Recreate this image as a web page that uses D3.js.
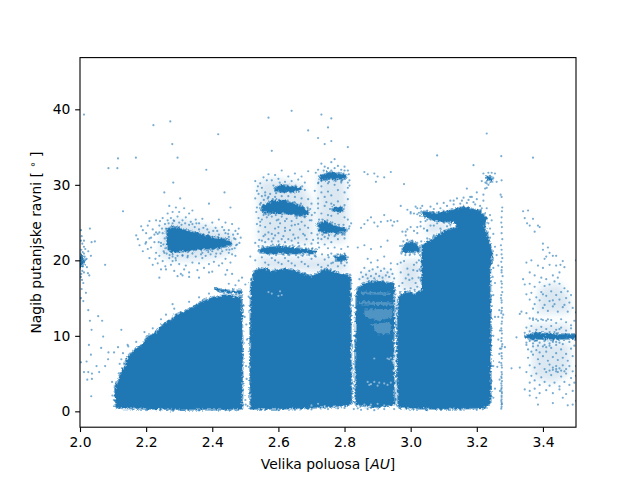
<!DOCTYPE html>
<html><head><meta charset="utf-8">
<script src="https://cdn.jsdelivr.net/npm/d3@7/dist/d3.min.js"></script>
<style>html,body{margin:0;background:#fff}svg{display:block}text{font-family:"DejaVu Sans";font-size:13.89px;fill:#000}</style>
</head><body><svg id="c" width="640" height="480"></svg>
<script>
const xTicks=[2.0,2.2,2.4,2.6,2.8,3.0,3.2,3.4];
const yTicks=[0,10,20,30,40];
const xTitle="Velika poluosa ";
// saturated regions: outlines, [a, i]
const regionInner=[[2.11,0.6],[2.107,2],[2.107,3.2],[2.117,4],[2.123,5],[2.135,5.9],[2.145,7],[2.165,8.1],[2.185,8.6],[2.205,9.8],[2.23,10.4],[2.255,11.6],[2.275,12],[2.295,12.9],[2.315,13.1],[2.345,13.8],[2.375,14.6],[2.4,15],[2.44,15.3],[2.47,15.1],[2.487,15.1],[2.49,8],[2.489,0.4],[2.45,0.3],[2.4,0.35],[2.3,0.3],[2.2,0.4],[2.13,0.5]];
const regionMiddle=[[2.517,0.4],[2.516,8],[2.519,17],[2.53,18.5],[2.55,18.9],[2.58,18.5],[2.62,18.8],[2.66,18.4],[2.7,17.8],[2.72,18.2],[2.74,18.8],[2.76,18.5],[2.79,18.1],[2.816,18],[2.817,12],[2.82,1.1],[2.8,0.8],[2.7,0.55],[2.6,0.4]];
const regionOuter=[[2.836,0.9],[2.834,8],[2.838,16],[2.86,16.9],[2.9,17.2],[2.948,16.8],[2.949,14],[2.946,7],[2.95,1],[2.9,0.6]];
const regionPallas=[[2.963,0.6],[2.96,7],[2.963,15],[2.985,15.8],[3.01,15.5],[3.036,16],[3.036,22],[3.067,22.8],[3.1,23.8],[3.14,24.3],[3.14,25.1],[3.08,25.3],[3.04,25.9],[3.037,26.4],[3.079,26.2],[3.12,26.5],[3.159,27],[3.21,26.5],[3.228,25.6],[3.222,24.6],[3.235,22.6],[3.245,20.9],[3.238,18.2],[3.24,14.7],[3.24,1.1],[3.22,0.5],[3.1,0.4],[3.0,0.45]];
const blobs=[
[[2.265,21.7],[2.264,24],[2.28,24.4],[2.33,23.8],[2.4,23],[2.452,22.6],[2.456,22.1],[2.42,21.7],[2.36,21.5],[2.3,21.2],[2.275,21.2]],
[[2.41,16.2],[2.45,15.9],[2.487,15.9],[2.487,15.65],[2.42,15.95]],
[[2.545,21.5],[2.6,21.8],[2.66,21.5],[2.715,21.2],[2.71,21],[2.65,21],[2.58,21],[2.545,21.1]],
[[2.59,29.5],[2.61,29.9],[2.64,29.7],[2.668,29.45],[2.65,29.2],[2.61,29.1],[2.592,29.3]],
[[2.55,27],[2.58,27.8],[2.62,27.8],[2.67,27.1],[2.69,26.4],[2.68,26],[2.62,26.3],[2.57,26.4],[2.552,26.5]],
[[2.72,24.8],[2.74,25.1],[2.77,24.5],[2.805,24.1],[2.8,23.8],[2.76,23.7],[2.725,23.9]],
[[2.725,31],[2.75,31.6],[2.805,31.2],[2.8,30.85],[2.76,30.8],[2.73,30.7]],
[[2.77,20.5],[2.8,20.6],[2.805,20.1],[2.78,20]],
[[2.765,26.9],[2.795,26.9],[2.795,26.6],[2.765,26.65]],
[[2.975,21.2],[2.98,22],[3.0,22.4],[3.025,21.8],[3.025,21.2],[3,21.1]],
[[3.345,9.95],[3.38,10.3],[3.44,10.1],[3.5,10.15],[3.5,9.7],[3.42,9.65],[3.365,9.6]],
[[2.0,19],[2.0,20.8],[2.008,20.4],[2.01,19.6]],
[[3.232,31],[3.245,30.9],[3.245,30.5],[3.236,30.6]]];
// thin light streaks inside the outer block
const streaks=[
[[2.85,15.9],[2.94,15.7],[2.94,15.4],[2.85,15.5]],
[[2.845,14.6],[2.945,14.4],[2.945,14],[2.845,14.2]],
[[2.86,13.5],[2.945,13.6],[2.945,12.4],[2.9,12],[2.86,12.6]],
[[2.88,11.6],[2.94,11.8],[2.94,10.2],[2.9,10.2]]];
// clouds too dense to read dot by dot: thin blurred shading under the sparse points
const haze=[
[[2.24,21],[2.25,24.6],[2.3,25.4],[2.38,24.6],[2.47,23.3],[2.47,21.4],[2.42,20.4],[2.32,19.9],[2.26,20.2]],
[[2.54,22.4],[2.54,30.5],[2.6,30.8],[2.67,30],[2.7,28],[2.7,22.2]],
[[2.72,22.4],[2.72,31.6],[2.8,31.4],[2.81,25.5],[2.8,22.4]],
[[2.54,18.8],[2.54,20.5],[2.8,20.2],[2.81,18.5]],
[[2.85,17],[2.85,18.3],[2.94,18.6],[2.94,17]],
[[2.97,16],[2.97,20],[3.03,20],[3.03,16]],
[[3.05,23.2],[3.05,25.2],[3.12,24.9],[3.12,24.2]],
[[3.38,13],[3.39,16.5],[3.45,17],[3.48,15],[3.48,13]],
[[3.37,4.5],[3.37,9],[3.48,9],[3.48,5],[3.43,3.8]],
[[3.36,10],[3.36,11.5],[3.48,11.5],[3.48,10]]];
// individually read sparse points, flat x,y
const ptsOutliers=[2.012,39.3,2.222,37.9,2.273,38.4,2.418,36.7,2.279,35.4,2.295,33.6,2.115,33.5,2.169,33.6,2.086,32.2,2.113,32.2,2.382,32,2.282,30.3,2.255,29,2.437,29,2.303,28.2,2.13,26.5,2.025,13.4,2.055,12.6,2.03,12,2.067,12,2.035,10.8,2.125,10.8,2.07,9.9,2.027,8.8,2.064,8.4,2.086,7.8,2.103,7.8,2.033,7.5,2.115,8.5,2.144,8.8,2.085,6.9,2.02,6.6,2.003,6.5,2.05,6,2.076,6,2.012,5.2,2.025,5.2,2.036,5,2.058,5.2,2.022,4.2,2.036,4.3,2.034,2,2.24,17.7,2.28,14.2,2.49,17.7,2.46,18.2,2.57,38.9,2.64,39.8,2.58,34.5,2.73,39.3,2.76,38.8,2.75,37.6,2.69,37.2,2.72,36.2,2.74,35.4,2.76,35.8,2.81,35,3.23,36.8,3.08,33.9,3.37,33.6,3.19,32.6,3.17,29.5,3.5,20,2.77,33.4,2.89,31.5,2.86,31.7,2.87,31.4,2.9,31.1,2.92,31,2.895,30.4,2.94,31.7,2.98,30.1];
const ptsLeft=[2.003,24,2.005,23.2,2.012,22.6,2.03,24.2,2.035,22.4,2.045,22.5,2.012,21.8,2.025,21.2,2.033,20.6,2.02,20.2,2.012,18.4,2.024,18.3,2.006,17.4,2.01,17,2.005,16.2,2.018,15.7,2.028,18,2.007,22.2,2.016,21.5,2.013,19.8,2.021,19.1,2.076,19.4,2.003,15,2.01,14.6,2.004,21.4,2.008,21.1,2.003,22.6,2.014,20.5,2.012,20.9,2.017,20.1,2.004,18.2,2.007,18.6,2.003,17.8];
const ptsHungaria=[2.19,24,2.2,23.6,2.205,24.6,2.21,25.2,2.215,23,2.22,24.1,2.225,22.4,2.23,25.3,2.235,23.5,2.24,24.6,2.245,22.3,2.25,25.6,2.17,23.3,2.175,22.8,2.19,21.2,2.2,22.4,2.205,21.5,2.21,20.3,2.215,21.7,2.22,19.4,2.23,21,2.235,19.6,2.24,20.6,2.245,18.8,2.25,19.9,2.255,21,2.258,19.2,2.26,18.8,2.265,26.2,2.27,27.2,2.275,25.6,2.28,26.4,2.285,25.2,2.29,27,2.295,25.8,2.3,26.4,2.31,25.3,2.315,26.9,2.32,25.7,2.33,26.2,2.335,25.1,2.34,26.6,2.35,25.4,2.36,24.9,2.37,25.5,2.38,24.6,2.39,27.5,2.4,25,2.41,24.3,2.42,25.4,2.43,24.4,2.44,25,2.45,24,2.455,27,2.46,24.8,2.47,23.9,2.48,24.2,2.27,20.3,2.275,19.4,2.28,20.8,2.285,18.6,2.29,20,2.295,17.9,2.3,19.5,2.305,18.2,2.31,20.6,2.315,18.8,2.32,19.3,2.325,20.4,2.33,18.4,2.34,19.7,2.35,20.5,2.355,18.7,2.36,19.6,2.37,20.3,2.375,19,2.38,20.6,2.39,19.5,2.395,20.8,2.4,18.5,2.405,19.8,2.41,20.5,2.42,19.3,2.425,20.9,2.43,19.6,2.44,20.2,2.445,18.7,2.45,21,2.455,19.7,2.46,20.8,2.47,20.6,2.28,24.9,2.3,25,2.33,24.7,2.36,24.1,2.39,23.7,2.42,23.4,2.45,23.1,2.47,22.8,2.475,22.1,2.28,20.5,2.31,20.7,2.34,20.9,2.37,21,2.4,21.2,2.43,21.2,2.46,21.5,2.25,23.6,2.252,22.1,2.253,21.2,2.248,24.2,2.3,24.4,2.24,23.7,2.23,23.7,2.31,18,2.33,17.8,2.36,17.7,2.44,18.1,2.39,18.4,2.28,19.9,2.295,20.6,2.245,21.9,2.225,23.4,2.21,22.9,2.198,22.2,2.185,24.5,2.18,22,2.265,25.3,2.34,24.8,2.385,24.1,2.415,23.9,2.44,23.6,2.257,24.8,2.262,20.9,2.268,24.9,2.271,20.7,2.283,25.3,2.289,20.3,2.307,24.7,2.318,24.9,2.326,20.6,2.347,24.4,2.352,24.9,2.366,20.8,2.373,24.3,2.388,21.1,2.403,23.9,2.412,20.9,2.436,24,2.443,21.4,2.448,23.5,2.452,21.4,2.463,23.4,2.466,22.9,2.472,22,2.468,21.6,2.477,23.5,2.482,22.3,2.486,23,2.258,21.6,2.256,22.9,2.26,24.2,2.238,22.4,2.228,20.2,2.242,25.2];
const ptsMiddleHigh=[2.53,30.5,2.535,29.2,2.54,28.8,2.545,30.2,2.55,29.6,2.555,31,2.56,28.6,2.565,30.6,2.57,31.4,2.575,28.8,2.58,30.6,2.59,31.3,2.6,30.8,2.61,31.9,2.62,30.4,2.63,31.1,2.64,30.5,2.65,31.5,2.66,30.7,2.67,31.1,2.68,30.3,2.69,31.8,2.53,28.2,2.535,27,2.54,25.6,2.535,24.8,2.54,23.8,2.545,24.6,2.55,25.4,2.555,23.2,2.56,24.4,2.565,25.7,2.57,23.7,2.575,24.9,2.58,25.8,2.585,22.9,2.59,24.2,2.595,25.3,2.6,23.6,2.605,24.9,2.61,25.8,2.615,23.2,2.62,24.3,2.625,25.5,2.63,22.8,2.635,24,2.64,25.2,2.645,23.4,2.65,24.7,2.655,25.6,2.66,23,2.665,24.1,2.67,25.1,2.675,23.5,2.68,24.6,2.685,22.8,2.69,24.3,2.695,25.3,2.7,23.6,2.705,22.7,2.55,22.6,2.56,22.4,2.57,22.8,2.58,22.5,2.59,23.3,2.6,22.5,2.61,22.8,2.62,22.4,2.64,22.6,2.66,22.3,2.68,22.1,2.7,22.2,2.72,22.3,2.73,22.8,2.74,22.1,2.75,21.6,2.76,22.4,2.77,21.7,2.78,22.8,2.79,21.5,2.8,22.9,2.81,21.8,2.74,23.1,2.77,23.2,2.8,23.4,2.55,28.5,2.56,29,2.57,28.4,2.59,28.4,2.61,28.5,2.63,28.5,2.65,28.4,2.67,28.2,2.69,28.1,2.7,27.5,2.71,29.2,2.72,28.2,2.73,29,2.74,28.4,2.75,29.1,2.76,28.6,2.78,29.3,2.8,29,2.81,29.6,2.81,28.1,2.72,30.2,2.73,29.8,2.75,30.2,2.77,30,2.79,30.3,2.71,26.3,2.72,26.9,2.73,26.2,2.74,27.2,2.75,26,2.76,25.9,2.78,26.2,2.8,25.7,2.81,25.4,2.72,32,2.73,32.8,2.74,32.4,2.75,32.2,2.76,33,2.77,32.2,2.78,32.5,2.79,32,2.8,32.4,2.81,31.9,2.815,30.6,2.54,21.9,2.53,22.3,2.515,20.5,2.53,20,2.56,19.7,2.58,20.3,2.6,19.7,2.62,20.3,2.64,19.6,2.66,20.4,2.68,19.5,2.7,20.2,2.72,19.4,2.74,20.1,2.76,19.6,2.78,19.2,2.55,20.4,2.59,20,2.63,19.9,2.67,19.8,2.71,20.6,2.75,20.7,2.57,19.4,2.61,19.5,2.65,19.3,2.69,19.2,2.73,19.1,2.75,19.3,2.8,19.3,2.545,25.1,2.555,26,2.56,23.4,2.58,23.5,2.6,25.4,2.62,25.2,2.64,24.6,2.66,24.8,2.68,25.7,2.7,25.3,2.6,24.4,2.57,26,2.62,23.9,2.65,22.9,2.68,23.3,2.72,22.9,2.75,22.9,2.78,23.5,2.745,27.7,2.76,27.5,2.72,27.5,2.78,27.8,2.73,30.5,2.76,31.9,2.8,31.9,2.79,30.5,2.81,30.3,2.815,24.5,2.82,24.9,2.547,27.6,2.556,28,2.561,26.1,2.568,28.2,2.573,26.2,2.583,28.1,2.592,26,2.602,28,2.612,26.1,2.628,27.9,2.638,26.1,2.648,27.7,2.658,25.9,2.668,27.5,2.678,25.8,2.688,27,2.696,26.8,2.701,26,2.585,29.9,2.593,28.9,2.604,30.3,2.618,29,2.628,29.9,2.638,29,2.652,29.9,2.662,29.1,2.672,29.8,2.68,29.3,2.538,29.8,2.544,27.4,2.533,26.4,2.542,22.7,2.552,21.9,2.567,21.8,2.583,22.1,2.603,22.1,2.623,21.9,2.643,22,2.663,21.9,2.683,21.6,2.703,21.6,2.723,21.7,2.573,20.8,2.593,20.7,2.613,20.8,2.633,20.7,2.653,20.7,2.673,20.6,2.693,20.7,2.713,20.5,2.732,20.8,2.752,20.4,2.723,25.4,2.733,25.4,2.748,25.3,2.763,25,2.783,24.7,2.797,24.7,2.813,24.2,2.718,23.4,2.733,23.4,2.753,23.3,2.773,23.4,2.793,23.4,2.713,31.6,2.721,30.3,2.737,31.9,2.763,31.5,2.783,31.6,2.797,31.5,2.813,31.4,2.753,30.4,2.773,30.5,2.793,30.6,2.815,29.9,2.8,27.3,2.768,27.3,2.785,26.4,2.756,26.8,2.76,20.9,2.78,20.8,2.8,20.9,2.81,20.4,2.765,19.7,2.79,19.6,2.807,19.7];
const ptsOuterHigh=[2.845,17.5,2.85,18.4,2.855,17.8,2.86,19,2.865,18.1,2.87,17.6,2.875,18.6,2.88,17.9,2.885,18.8,2.89,17.6,2.895,18.2,2.9,19.1,2.905,17.9,2.91,18.6,2.915,17.7,2.92,18.9,2.925,18,2.93,18.4,2.935,17.8,2.94,18.8,2.945,18.2,2.87,20.2,2.88,19.7,2.9,20,2.92,20.5,2.94,19.6,2.84,21.7,2.86,22,2.88,21.5,2.91,21.8,2.93,22.6,2.86,24.8,2.85,24.3,2.87,25.3,2.88,25.7,2.9,24.5,2.91,25.1,2.92,26,2.94,25.3,2.95,25.1,2.96,25.2,2.89,25,2.93,25.2,2.945,24.6,2.975,23.8,2.99,24.1,3,24.4,3.01,23.9,2.985,23.3,2.96,19.5,2.97,18.4,2.975,17,2.98,19.9,2.985,17.6,2.99,18.9,3,16.3,3.005,17.6,3.01,19.4,3.015,17,3.02,18.6,3.025,20,3.03,17.4,2.965,16.6,2.97,19.7,3.02,16.5,2.84,16.4,2.85,16.3,2.855,15.7,2.95,17.6,2.985,23.8,3.03,24.5,3.02,24.4,3.04,24.2,3.05,23.9,3,26.4,3.01,26.2,2.97,27.2,2.99,26.7,2.968,21.9,2.972,20.9,2.978,22.5,2.984,20.7,2.99,22.7,2.997,20.7,3.005,22.6,3.012,20.8,3.02,22.3,3.028,20.7,3.032,22.5,2.993,18.1,3.008,18.7,3.018,19.7,3.027,18.8,2.968,15.8,2.982,16.2,2.996,17.4,3.012,16.1,3.024,17.7,3.05,22.9,3.07,23.3,3.09,24.2,3.11,24.5,3.06,24.6,3.08,24.9,3.1,25,3.12,24.7,3.045,25.2,3.06,25.4];
const ptsOuterTop=[3.03,26.9,3.05,26.6,3.06,27.1,3.07,26.8,3.08,27.5,3.09,26.9,3.1,27.6,3.11,27.2,3.12,27.9,3.13,27.4,3.14,28.2,3.15,27.5,3.16,28.3,3.17,27.6,3.18,28.4,3.19,27.7,3.2,28.1,3.21,27.2,3.22,27.9,3.23,26.9,3.24,26,3.245,25.3,3.24,24.2,3.25,23.5,3.255,21.8,3.26,20.7,3.25,19,3.255,17,3.25,15.4,3.255,12.5,3.25,10,3.25,6,3.255,3,3.25,1.8,3.07,24.6,3.1,25.1,3.05,24,3.02,23.6,3.03,25.1,3.05,25.4,3.02,26.9,3.015,27.1,3.0,26.2,3.215,30.5,3.22,31.5,3.225,29.5,3.235,31.6,3.245,31.6,3.255,31.5,3.26,30.4,3.23,29.6,3.22,28.7,3.2,29,3.185,28.4,3.228,30.9,3.23,30.2,3.226,30.3,3.24,31.2,3.25,30.9,3.235,30,3.025,26.3,3.02,26.1,3.028,25.9,3.035,27.2,3.13,27.9,3.155,27.9,3.175,28,3.195,27.4,3.215,26.9,3.235,24.9,3.24,23,3.245,20,3.248,17.8,3.245,11,3.245,4];
const ptsStrip=[3.274,33.8,3.272,28.7,3.275,28.4,3.277,27,3.276,26.5,3.275,25.7,3.274,25,3.276,24.4,3.275,23.6,3.277,22.8,3.273,22,3.275,21.4,3.277,20.3,3.274,19.8,3.276,19.1,3.275,18.4,3.278,17.9,3.274,17.2,3.275,16.4,3.277,15.8,3.273,15,3.275,14.4,3.276,13.7,3.274,13,3.277,12.4,3.275,11.6,3.274,11,3.276,10.3,3.275,9.7,3.277,8.9,3.274,8.3,3.275,7.7,3.276,7,3.274,6.4,3.276,5.8,3.275,5.2,3.274,4.6,3.276,4,3.275,3.4,3.274,2.9,3.276,2.4,3.275,1.9,3.274,1.4,3.276,1,3.275,.6,3.274,.35,3.275,30.6,3.265,19.3,3.28,12.8,3.265,12.5,3.265,9.5,3.285,8.5,3.268,7.6,3.262,5.9,3.275,4.4,3.275,3.1,3.275,2.1,3.275,1.6,3.275,1.2,3.275,.9,3.275,2.6,3.274,3.7,3.276,4.9,3.275,6.1,3.275,7.3,3.276,8.6,3.274,9.3,3.275,10.7,3.276,11.9,3.275,13.3,3.275,14.7,3.274,15.4,3.276,16.9,3.275,18.7,3.275,20.8,3.268,13.4,3.27,10.7,3.27,8.3,3.268,6.5,3.269,4.2,3.27,2.7];
const ptsEdgeGaps=[2.503,11.5,2.505,9.5,2.502,6,2.504,4.3,2.5,1.5,2.501,.9,2.507,.7,2.495,14,2.51,15.2,2.498,12.5,2.826,14,2.829,10,2.828,6.3,2.829,3,2.83,1.2,2.828,.3,2.84,.4,2.85,.2,2.87,.3,2.89,.15,2.92,.3,2.95,.3,2.956,13.6,2.956,11.5,2.958,6.6,2.956,4,2.955,1.6,2.6,.15,2.65,.2,2.7,.25,2.75,.3,2.78,.4,2.8,.45,3.05,.15,3.15,.2,3.2,.2,2.2,.15,2.28,.1,2.36,.12,2.44,.15,2.098,2.1,2.112,1.2,2.11,.6,2.097,3.9,2.125,6.9,2.146,8.6,2.17,9.2,2.195,10.5,2.22,11,2.245,12.2,2.26,12.8,2.285,13.6,2.33,14.5,2.36,15.1,2.39,15.6,2.44,16,2.5,16.8,2.48,17.3,2.47,16.7,2.45,16.9,2.13,7.7,2.12,6.3];
const ptsFar=[3.34,26.5,3.355,26.6,3.345,25.6,3.352,24.9,3.36,24.6,3.37,25.5,3.385,24.6,3.39,24.4,3.375,23.8,3.4,22.2,3.4,21.4,3.415,21.7,3.42,21,3.43,20.6,3.41,20.5,3.405,20.2,3.44,20.6,3.46,19.9,3.35,19.7,3.365,20,3.385,19.3,3.4,19,3.42,19.4,3.44,19.3,3.453,19.4,3.465,19.1,3.45,18.4,3.445,17.7,3.43,18,3.41,17.5,3.395,17.7,3.375,18,3.36,18.4,3.34,17.5,3.345,16.8,3.36,16.9,3.375,16.5,3.39,17.1,3.405,16.6,3.42,16.8,3.435,17.2,3.45,16.9,3.465,16.3,3.475,15.9,3.35,15.5,3.365,15.7,3.38,15.1,3.395,15.8,3.41,15.3,3.425,15.9,3.44,15.4,3.455,15.8,3.47,15,3.485,15.4,3.36,14.8,3.375,14.2,3.39,14.7,3.405,14.1,3.42,14.6,3.435,14.2,3.45,14.8,3.465,14.1,3.48,14.4,3.37,13.6,3.385,13.1,3.4,13.7,3.415,13.3,3.43,13.9,3.445,13.2,3.46,13.8,3.475,13.2,3.49,13.7,3.35,13,3.36,12.3,3.5,13.1,3.37,12.1,3.385,12,3.395,12.2,3.41,12,3.425,12.1,3.44,11.7,3.455,12.2,3.47,11.8,3.485,11.4,3.495,12,3.35,11.1,3.365,11.3,3.38,10.8,3.395,11.2,3.41,10.9,3.425,11.3,3.44,10.8,3.455,11.1,3.47,10.7,3.485,11,3.345,10.4,3.36,10.6,3.375,9.3,3.39,9.1,3.405,9.3,3.42,9,3.44,9.2,3.46,8.9,3.48,9.2,3.495,8.7,3.35,8.8,3.355,8.2,3.365,7.9,3.37,8.6,3.38,8.1,3.39,7.8,3.4,8.6,3.41,7.9,3.425,8.4,3.44,7.7,3.455,8.2,3.47,7.6,3.485,8.3,3.355,7.1,3.37,7.5,3.385,6.9,3.4,7.3,3.415,6.7,3.43,7.2,3.445,6.8,3.46,7.1,3.475,6.7,3.49,7.3,3.36,6.1,3.375,5.8,3.39,6.3,3.405,5.6,3.42,6.2,3.43,5.8,3.44,6,3.45,5.7,3.46,6.1,3.47,5.6,3.48,6,3.49,5.3,3.5,6,3.35,5.2,3.365,4.7,3.38,5,3.395,4.5,3.41,5.2,3.425,4.8,3.44,5.3,3.455,4.6,3.47,5,3.485,4.4,3.5,4.7,3.36,3.8,3.375,4.1,3.39,3.5,3.405,3.9,3.42,3.4,3.435,3.8,3.45,3.3,3.465,3.9,3.48,3.5,3.495,3.8,3.345,2.9,3.36,2.7,3.375,3,3.39,2.4,3.41,2.8,3.43,2.4,3.45,2.9,3.47,2.3,3.49,2.7,3.36,2.1,3.38,1.8,3.385,.9,3.43,1.1,3.46,1.8,3.475,.8,3.5,1.4,3.49,.9,3.33,5.8,3.33,12.9,3.305,5.7,3.32,9.8,3.335,13.2,3.4,15.5,3.43,14.7,3.42,10.5,3.435,10.5,3.45,9.1,3.43,9.2,3.42,8.7,3.41,8.5,3.405,8.8,3.42,5.4,3.43,5.5,3.44,5.6,3.445,5.2,3.455,5.4,3.465,5.3,3.37,12.3,3.38,12.2,3.4,12.1,3.415,12.2,3.37,9,3.38,9.4,3.35,9.1,3.36,9.3,3.385,8.7,3.4,9.6,3.43,9.4,3.44,8.8,3.45,10.9];
// lighter specks inside saturated blocks
const ptsSpecks=[2.93,7,2.935,6.9,2.94,7.1,2.945,6.7,2.89,7,2.87,3.9,2.875,3.5,2.88,3.6,2.89,3.9,2.9,3.4,2.905,3.8,2.92,3.7,2.93,3.5,2.94,3.8,2.6,15.3,2.605,15.9,2.61,15.4,2.57,15.8,2.58,15.6,2.948,6.4,2.948,5.4,2.86,.9,2.88,.9,2.9,1,2.92,.8,2.7,.8,2.72,1,2.74,.7];
const W=640,H=480,L=80,R=576,T=57.6,B=427.2;
const x=d3.scaleLinear().domain([2.0,3.5]).range([L,R]);
const y=d3.scaleLinear().domain([-2.1,46.85]).range([B,T]);
const svg=d3.select("#c");
const defs=svg.append("defs");
defs.append("clipPath").attr("id","clip").append("rect").attr("x",L).attr("y",T).attr("width",R-L).attr("height",B-T);
const f=defs.append("filter").attr("id","rough").attr("filterUnits","userSpaceOnUse").attr("x",0).attr("y",0).attr("width",W).attr("height",H).attr("color-interpolation-filters","sRGB");
f.append("feTurbulence").attr("type","fractalNoise").attr("baseFrequency",.4).attr("numOctaves",2).attr("seed",4).attr("result","n");
f.append("feDisplacementMap").attr("in","SourceGraphic").attr("in2","n").attr("scale",5).attr("xChannelSelector","R").attr("yChannelSelector","G");
const soft=defs.append("filter").attr("id","soft").attr("filterUnits","userSpaceOnUse").attr("x",0).attr("y",0).attr("width",W).attr("height",H);
soft.append("feGaussianBlur").attr("stdDeviation",3.5);
const g=svg.append("g").attr("clip-path","url(#clip)");
const blue="#1f77b4";
const line=d3.line().x(d=>x(d[0])).y(d=>y(d[1])).curve(d3.curveLinearClosed);
const solid=[regionInner,regionMiddle,regionOuter,regionPallas,...blobs];
const pairs=a=>d3.range(0,a.length-1,2).map(i=>[a[i],a[i+1]]);
const sparse=[ptsOutliers,ptsLeft,ptsHungaria,ptsMiddleHigh,ptsOuterHigh,ptsOuterTop,ptsStrip,ptsEdgeGaps,ptsFar].flatMap(pairs);
g.append("g").attr("filter","url(#soft)").selectAll("path").data(haze).join("path").attr("d",line).attr("fill",blue).attr("fill-opacity",.17);
g.selectAll("circle.p").data(sparse).join("circle").attr("class","p").attr("cx",d=>x(d[0])).attr("cy",d=>y(d[1])).attr("r",1.1).attr("fill",blue).attr("fill-opacity",.6);
const rough=g.append("g").attr("filter","url(#rough)");
rough.selectAll("path.h").data(solid).join("path").attr("class","h").attr("d",line).attr("fill","none").attr("stroke",blue).attr("stroke-opacity",.55).attr("stroke-width",3.5).attr("stroke-linejoin","round");
rough.selectAll("path.r").data(solid).join("path").attr("class","r").attr("d",line).attr("fill",blue).attr("stroke",blue).attr("stroke-width",1).attr("stroke-linejoin","round");
rough.selectAll("path.k").data(streaks).join("path").attr("class","k").attr("d",line).attr("fill","#fff").attr("fill-opacity",.22);
g.selectAll("circle.s").data(pairs(ptsSpecks)).join("circle").attr("class","s").attr("cx",d=>x(d[0])).attr("cy",d=>y(d[1])).attr("r",1.1).attr("fill","#fff").attr("fill-opacity",.45);
const ax=svg.append("g").attr("transform",`translate(0,${B})`).call(d3.axisBottom(x).tickValues(xTicks).tickFormat(d3.format(".1f")).tickSize(4.86).tickPadding(4.86).tickSizeOuter(0));
const ay=svg.append("g").attr("transform",`translate(${L},0)`).call(d3.axisLeft(y).tickValues(yTicks).tickSize(4.86).tickPadding(4.86).tickSizeOuter(0));
[ax,ay].forEach(a=>{a.selectAll("line").attr("stroke","#000").attr("stroke-width",1.1);a.select(".domain").remove();a.selectAll("text").attr("font-family","DejaVu Sans").attr("font-size",13.89).attr("fill","#000");});
svg.append("rect").attr("x",L).attr("y",T).attr("width",R-L).attr("height",B-T).attr("fill","none").attr("stroke","#000").attr("stroke-width",1.1);
const xl=svg.append("text").attr("x",328).attr("y",469).attr("text-anchor","middle").text(xTitle+"[");
xl.append("tspan").attr("font-style","italic").text("AU");
xl.append("tspan").text("]");
const yl=svg.append("text").attr("transform","translate(41,242.5) rotate(-90)").attr("text-anchor","middle").text("Nagib putanjske ravni [ ");
yl.append("tspan").attr("font-size",10).attr("dy",-5).text("∘");
yl.append("tspan").attr("dy",5).text(" ]");
</script></body></html>
